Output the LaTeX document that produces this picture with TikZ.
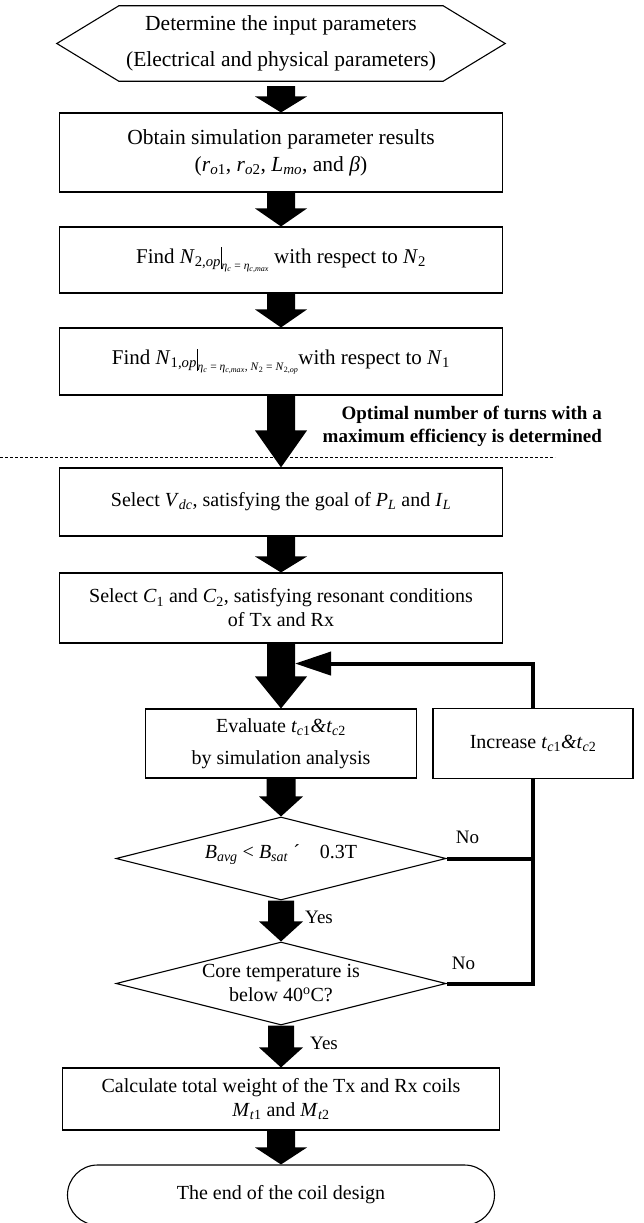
\documentclass[tikz,border=0pt]{standalone}
\usepackage{fontspec}
\setmainfont{Liberation Serif}
\usepackage{tikz}
\usetikzlibrary{arrows.meta, positioning, shapes.geometric, shapes.misc}

\newcommand{\lo}[1]{\textsubscript{#1}}
\newcommand{\evalat}[1]{\rule[-6pt]{0.7pt}{22pt}\raisebox{-6pt}{\fontsize{11.5}{12}\selectfont #1}}
% fat arrow: from anchor, to anchor, shaft width, head width, head length
\newcommand{\blockarrow}[5]{%
	\fill ([xshift=-#3/2]#1) -- ([xshift=#3/2]#1)
	-- ([xshift=#3/2, yshift=#5]#2) -- ([xshift=#4/2, yshift=#5]#2)
	-- (#2)
	-- ([xshift=-#4/2, yshift=#5]#2) -- ([xshift=-#3/2, yshift=#5]#2) -- cycle;}

\begin{document}
\begin{tikzpicture}[x=1pt, y=1pt, every node/.style={inner sep=0pt, align=center, font=\fontsize{20}{24}\selectfont},
	box/.style={draw, line width=1.1pt, minimum width=443pt},
	dmd/.style={draw, diamond, line width=1.1pt, minimum width=330pt, minimum height=83pt},
	loopline/.style={line width=4pt}]

	\useasboundingbox (0,0) rectangle (643,-1223);
	\fill [white] (0,0) rectangle (643,-1223);

	\node [minimum width=448pt, minimum height=75pt, font=\fontsize{21.5}{26}\selectfont] (start) at (281,-43.5)
	{Determine the input parameters \\[10pt] (Electrical and physical parameters)};
	\draw [line width=1.1pt] (start.west) -- ([xshift=62pt]start.north west) -- ([xshift=-62pt]start.north east)
	-- (start.east) -- ([xshift=-62pt]start.south east) -- ([xshift=62pt]start.south west) -- cycle;

	\node [box, minimum height=79pt, font=\fontsize{21.5}{26}\selectfont] (obtain) [below of = start, node distance=109pt]
	{Obtain simulation parameter results \\[1pt] (\textit{r}\lo{\textit{o}1}, \textit{r}\lo{\textit{o}2}, \textit{L}\lo{\textit{mo}}, and \textit{β})};
	\node [box, minimum height=66pt, font=\fontsize{21}{24}\selectfont] (findtwo) [below of = obtain, node distance=107.5pt]
	{Find \textit{N}\lo{2,\textit{op}}\evalat{\textit{η}\lo{\textit{c}} = \textit{η}\lo{\textit{c,max}}} with respect to \textit{N}\lo{2}};
	\node [box, minimum height=67pt, font=\fontsize{21}{24}\selectfont] (findone) [below of = findtwo, node distance=101.5pt]
	{Find \textit{N}\lo{1,\textit{op}}\evalat{\textit{η}\lo{\textit{c}} = \textit{η}\lo{\textit{c,max}}, \textit{N}\lo{2} = \textit{N}\lo{2,\textit{op}}}with respect to \textit{N}\lo{1}};
	\node [box, minimum height=68pt] (selvdc) [below of = findone, node distance=140.5pt]
	{Select \textit{V}\lo{\textit{dc}}, satisfying the goal of \textit{P}\lo{\textit{L}} and \textit{I}\lo{\textit{L}}};
	\node [box, minimum height=70pt] (selc) [below of = selvdc, node distance=106pt]
	{Select \textit{C}\lo{1} and \textit{C}\lo{2}, satisfying resonant conditions \\ of Tx and Rx};
	\node [box, minimum width=271pt, minimum height=69pt] (evalt) [below of = selc, node distance=135.5pt]
	{Evaluate \textit{t}\lo{\textit{c}1}\textit{\&t}\lo{\textit{c}2} \\[8pt] by simulation analysis};
	\node [box, minimum width=200pt, minimum height=70pt] (incr) [right of = evalt, node distance=252pt]
	{Increase \textit{t}\lo{\textit{c}1}\textit{\&t}\lo{\textit{c}2}};
	\node [dmd] (flux) [below of = evalt, node distance=115pt] {};
	\node (fluxtext) at ([yshift=4pt]flux) {\textit{B}\lo{\textit{avg}} < \textit{B}\lo{\textit{sat}} ´\quad 0.3T};
	\node [dmd] (temp) [below of = flux, node distance=125pt] {};
	\node (temptext) at (temp) {Core temperature is \\ below 40\textsuperscript{o}C?};
	\node [box, minimum width=437pt, minimum height=62pt] (weight) [below of = temp, node distance=115.5pt]
	{Calculate total weight of the Tx and Rx coils \\ \textit{M}\lo{\textit{t}1} and \textit{M}\lo{\textit{t}2}};
	\node [draw, rounded rectangle, line width=1.1pt, minimum width=427pt, minimum height=60pt] (finish) [below of = weight, node distance=96pt]
	{The end of the coil design};

	\node [anchor=east, font=\bfseries\fontsize{19}{23}\selectfont, align=right] (optnote) at (602,-426.5)
	{Optimal number of turns with a \\ maximum efficiency is determined};
	\draw [dash pattern=on 3pt off 2pt, line width=1pt] (0,-457) -- (555,-457);

	\coordinate (startfoot) at ([yshift=-5pt]start.south);
	\blockarrow{startfoot}{obtain.north}{28pt}{52pt}{16pt}
	\blockarrow{obtain.south}{findtwo.north}{28pt}{52pt}{18pt}
	\blockarrow{findtwo.south}{findone.north}{28pt}{52pt}{18pt}
	\blockarrow{findone.south}{selvdc.north}{28pt}{52pt}{37pt}
	\blockarrow{selvdc.south}{selc.north}{28pt}{52pt}{16pt}
	\blockarrow{selc.south}{evalt.north}{28pt}{52pt}{32pt}
	\blockarrow{evalt.south}{flux.north}{29pt}{44pt}{20pt}
	\blockarrow{flux.south}{temp.north}{26pt}{44pt}{20pt}
	\blockarrow{temp.south}{weight.north}{26pt}{44pt}{20pt}
	\blockarrow{weight.south}{finish.north}{28pt}{52pt}{17pt}

	\coordinate (loopin) at ([xshift=14pt, yshift=-20pt]selc.south);
	\draw [loopline] (flux.east) -- (flux.east -| incr.south);
	\draw [loopline] (temp.east) -| (incr.south);
	\draw [loopline, -{Triangle[length=36pt, width=23pt]}] (incr.north) |- (loopin);

	\node [font=\fontsize{19}{23}\selectfont] (noa) at ([xshift=21pt, yshift=21pt]flux.east) {No};
	\node [font=\fontsize{19}{23}\selectfont] (nob) at ([xshift=17pt, yshift=20pt]temp.east) {No};
	\node [anchor=west, font=\fontsize{19}{23}\selectfont] (yesa) at ([xshift=24pt, yshift=-17pt]flux.south) {Yes};
	\node [anchor=west, font=\fontsize{19}{23}\selectfont] (yesb) at ([xshift=29pt, yshift=-18pt]temp.south) {Yes};

\end{tikzpicture}
\end{document}
